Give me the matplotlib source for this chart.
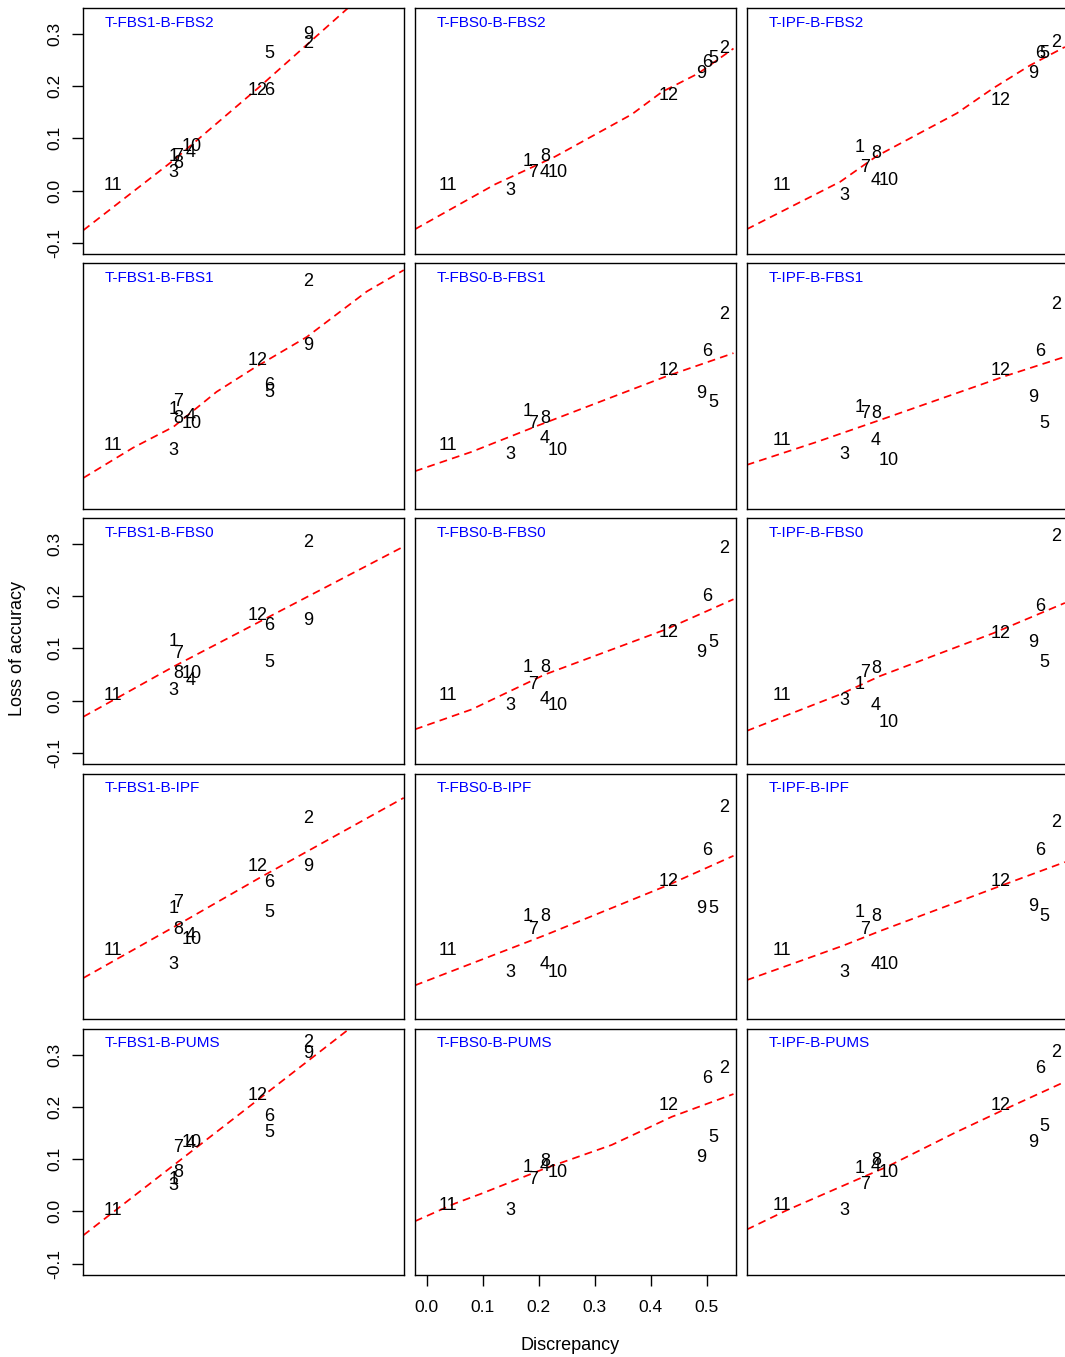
import matplotlib.pyplot as plt

plt.rcParams['font.family'] = ['Liberation Sans', 'DejaVu Sans']

labels = [str(i) for i in range(1, 13)]
synth = ["FBS1", "FBS0", "IPF"]                   # columns
bench = ["FBS2", "FBS1", "FBS0", "IPF", "PUMS"]   # rows

# discrepancy of areas 1..12 under each synthesis method
disc_fbs1 = [0.140, 0.381, 0.140, 0.170, 0.311, 0.311, 0.149, 0.148, 0.381, 0.173, 0.032, 0.290]
disc_fbs0 = [0.180, 0.531, 0.150, 0.211, 0.512, 0.500, 0.190, 0.211, 0.490, 0.234, 0.0375, 0.431]
disc_ipf = [0.179, 0.530, 0.152, 0.208, 0.509, 0.502, 0.190, 0.209, 0.489, 0.231, 0.040, 0.432]

# loss of accuracy of areas 1..12, one list per synthesis / benchmark pair
loss_fbs1_fbs2 = [0.065, 0.282, 0.034, 0.072, 0.263, 0.191, 0.065, 0.052, 0.299, 0.084, 0.0105, 0.191]
loss_fbs0_fbs2 = [0.055, 0.272, 0.001, 0.034, 0.253, 0.245, 0.034, 0.065, 0.2245, 0.034, 0.0105, 0.183]
loss_ipf_fbs2 = [0.083, 0.283, -0.009, 0.020, 0.263, 0.263, 0.044, 0.071, 0.2245, 0.020, 0.0105, 0.173]

loss_fbs1_fbs1 = [0.070, 0.315, -0.009, 0.055, 0.102, 0.1145, 0.084, 0.052, 0.191, 0.0425, 0.001, 0.162]
loss_fbs0_fbs1 = [0.065, 0.251, -0.018, 0.014, 0.083, 0.180, 0.0425, 0.052, 0.100, -0.009, 0.001, 0.143]
loss_ipf_fbs1 = [0.072, 0.270, -0.018, 0.0105, 0.0425, 0.181, 0.062, 0.062, 0.092, -0.028, 0.0105, 0.143]

loss_fbs1_fbs0 = [0.113, 0.302, 0.020, 0.038, 0.072, 0.143, 0.090, 0.052, 0.153, 0.052, 0.0105, 0.162]
loss_fbs0_fbs0 = [0.064, 0.292, -0.009, 0.002, 0.111, 0.200, 0.030, 0.064, 0.092, -0.009, 0.0105, 0.130]
loss_ipf_fbs0 = [0.030, 0.315, 0.001, -0.009, 0.072, 0.181, 0.053, 0.062, 0.111, -0.041, 0.0105, 0.129]

loss_fbs1_ipf = [0.092, 0.264, -0.017, 0.040, 0.084, 0.140, 0.103, 0.050, 0.172, 0.031, 0.0115, 0.172]
loss_fbs0_ipf = [0.075, 0.284, -0.031, -0.017, 0.092, 0.203, 0.050, 0.075, 0.092, -0.031, 0.0115, 0.142]
loss_ipf_ipf = [0.084, 0.255, -0.031, -0.017, 0.075, 0.203, 0.050, 0.075, 0.094, -0.017, 0.0115, 0.142]

loss_fbs1_pums = [0.061, 0.323, 0.050, 0.129, 0.150, 0.182, 0.122, 0.074, 0.302, 0.131, 0.001, 0.221]
loss_fbs0_pums = [0.084, 0.274, 0.002, 0.085, 0.142, 0.255, 0.060, 0.095, 0.103, 0.074, 0.012, 0.202]
loss_ipf_pums = [0.082, 0.304, 0.002, 0.085, 0.163, 0.274, 0.052, 0.097, 0.131, 0.074, 0.012, 0.202]

# smoother through each panel, (discrepancy, loss) knots
fit_fbs1_fbs2 = [(-0.021, -0.076), (0.140, 0.058), (0.295, 0.200), (0.451, 0.349)]
fit_fbs0_fbs2 = [(-0.021, -0.074), (0.122, 0.012), (0.229, 0.065), (0.366, 0.146), (0.420, 0.189), (0.485, 0.2245), (0.5475, 0.272)]
fit_ipf_fbs2 = [(-0.022, -0.074), (0.145, 0.017), (0.210, 0.066), (0.353, 0.148), (0.418, 0.196), (0.484, 0.240), (0.546, 0.275)]

fit_fbs1_fbs1 = [(-0.021, -0.062), (0.068, -0.004), (0.140, 0.036), (0.217, 0.103), (0.283, 0.148), (0.378, 0.208), (0.485, 0.295), (0.551, 0.336)]
fit_fbs0_fbs1 = [(-0.021, -0.049), (0.080, -0.012), (0.200, 0.039), (0.426, 0.132), (0.5475, 0.177)]
fit_ipf_fbs1 = [(-0.022, -0.037), (0.103, 0.007), (0.216, 0.049), (0.442, 0.134), (0.546, 0.170)]

fit_fbs1_fbs0 = [(-0.021, -0.031), (0.140, 0.065), (0.551, 0.295)]
fit_fbs0_fbs0 = [(-0.021, -0.055), (0.080, -0.017), (0.211, 0.050), (0.426, 0.136), (0.5475, 0.194)]
fit_ipf_fbs0 = [(-0.022, -0.058), (0.145, 0.012), (0.216, 0.047), (0.418, 0.129), (0.546, 0.187)]

fit_fbs1_ipf = [(-0.021, -0.042), (0.151, 0.062), (0.294, 0.150), (0.551, 0.303)]
fit_fbs0_ipf = [(-0.021, -0.056), (0.211, 0.040), (0.431, 0.136), (0.5475, 0.192)]
fit_ipf_ipf = [(-0.022, -0.046), (0.150, 0.020), (0.216, 0.048), (0.430, 0.134), (0.546, 0.180)]

fit_fbs1_pums = [(-0.021, -0.046), (0.140, 0.088), (0.295, 0.217), (0.451, 0.347)]
fit_fbs0_pums = [(-0.021, -0.019), (0.0505, 0.015), (0.098, 0.034), (0.211, 0.082), (0.330, 0.127), (0.4375, 0.181), (0.5475, 0.2245)]
fit_ipf_pums = [(-0.022, -0.035), (0.0495, 0.002), (0.180, 0.063), (0.228, 0.085), (0.347, 0.149), (0.436, 0.194), (0.546, 0.248)]

disc = [disc_fbs1, disc_fbs0, disc_ipf]
loss = [
    [loss_fbs1_fbs2, loss_fbs0_fbs2, loss_ipf_fbs2],
    [loss_fbs1_fbs1, loss_fbs0_fbs1, loss_ipf_fbs1],
    [loss_fbs1_fbs0, loss_fbs0_fbs0, loss_ipf_fbs0],
    [loss_fbs1_ipf, loss_fbs0_ipf, loss_ipf_ipf],
    [loss_fbs1_pums, loss_fbs0_pums, loss_ipf_pums],
]
fits = [
    [fit_fbs1_fbs2, fit_fbs0_fbs2, fit_ipf_fbs2],
    [fit_fbs1_fbs1, fit_fbs0_fbs1, fit_ipf_fbs1],
    [fit_fbs1_fbs0, fit_fbs0_fbs0, fit_ipf_fbs0],
    [fit_fbs1_ipf, fit_fbs0_ipf, fit_ipf_ipf],
    [fit_fbs1_pums, fit_fbs0_pums, fit_ipf_pums],
]

W, H = 1065, 1357
fig = plt.figure(figsize=(W / 100, H / 100), dpi=100)

col_left = [83.3, 415.0, 747.3]
row_top = [8.3, 263.3, 518.3, 773.8, 1029.0]
pw, ph = 321.0, 245.5

for r in range(5):
    for c in range(3):
        ax = fig.add_axes([col_left[c] / W, 1 - (row_top[r] + ph) / H, pw / W, ph / H])
        ax.set_xlim(-0.021, 0.552)
        ax.set_ylim(-0.121, 0.349)
        for s in ax.spines.values():
            s.set_linewidth(1.0)

        fx = [p[0] for p in fits[r][c]]
        fy = [p[1] for p in fits[r][c]]
        ax.plot(fx, fy, color='red', lw=1.25, dashes=(4.5, 3))

        for lab, x, y in zip(labels, disc[c], loss[r][c]):
            ax.text(x, y, lab, ha='center', va='center', fontsize=13)

        ax.text(21.7 / pw, 1 - 14.4 / ph, f"T-{synth[c]}-B-{bench[r]}",
                transform=ax.transAxes, color='blue', fontsize=11,
                ha='left', va='center')

        ax.tick_params(direction='out', length=8, width=1.0, labelsize=12.5)
        if c == 0 and r % 2 == 0:
            ax.set_yticks([-0.1, 0.0, 0.1, 0.2, 0.3])
            ax.set_yticklabels(["-0.1", "0.0", "0.1", "0.2", "0.3"],
                               rotation=90, va='center')
            ax.tick_params(axis='y', pad=7)
        else:
            ax.set_yticks([])
        if c == 1 and r == 4:
            ax.set_xticks([0.0, 0.1, 0.2, 0.3, 0.4, 0.5])
            ax.set_xticklabels(["0.0", "0.1", "0.2", "0.3", "0.4", "0.5"])
            ax.tick_params(axis='x', pad=10)
        else:
            ax.set_xticks([])

fig.text(570 / W, 1 - 1346 / H, "Discrepancy", ha='center', va='center', fontsize=13)
fig.text(18 / W, 1 - 648 / H, "Loss of accuracy", ha='center', va='center',
         rotation=90, fontsize=13)

fig.savefig("out.png", dpi=100)
